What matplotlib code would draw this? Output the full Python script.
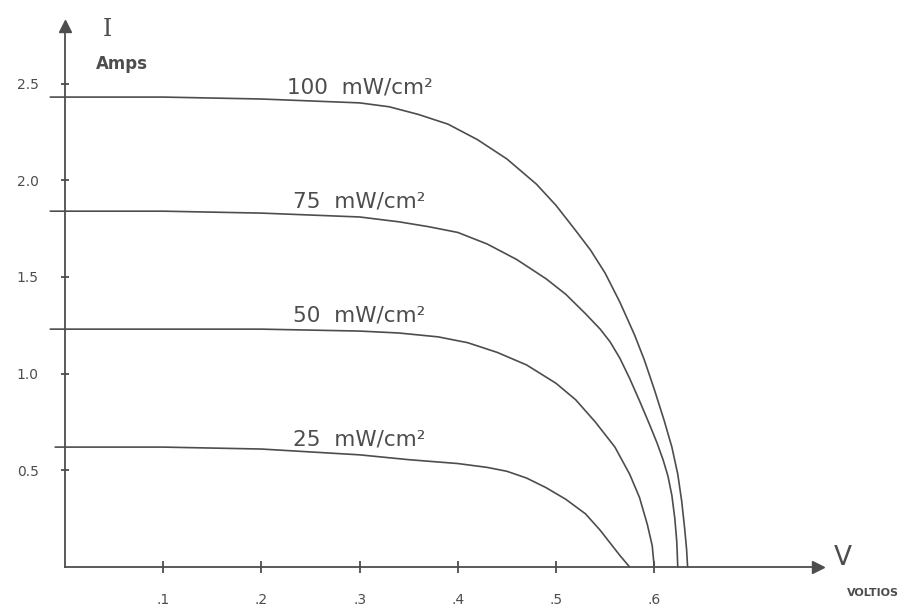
import matplotlib
matplotlib.use("Agg")
import matplotlib.pyplot as plt
import numpy as np

# I-V curves of a solar cell at four irradiance levels
volts_100 = [-0.015, 0.05, 0.10, 0.15, 0.20, 0.25, 0.30, 0.33, 0.36, 0.39, 0.42, 0.45, 0.48,
             0.50, 0.52, 0.535, 0.55, 0.565, 0.58, 0.59, 0.60, 0.61, 0.618, 0.624, 0.628,
             0.631, 0.633, 0.634]
amps_100 = [2.43, 2.43, 2.43, 2.425, 2.42, 2.41, 2.40, 2.38, 2.34, 2.29, 2.21, 2.11, 1.98,
            1.87, 1.74, 1.64, 1.52, 1.37, 1.20, 1.07, 0.92, 0.76, 0.62, 0.48, 0.34,
            0.20, 0.09, 0.0]

volts_75 = [-0.015, 0.05, 0.10, 0.15, 0.20, 0.25, 0.30, 0.34, 0.37, 0.40, 0.43, 0.46, 0.49,
            0.51, 0.53, 0.545, 0.555, 0.565, 0.575, 0.585, 0.595, 0.603, 0.609, 0.614,
            0.618, 0.621, 0.623, 0.624]
amps_75 = [1.84, 1.84, 1.84, 1.835, 1.83, 1.82, 1.81, 1.785, 1.76, 1.73, 1.67, 1.59, 1.49,
           1.41, 1.31, 1.23, 1.165, 1.08, 0.975, 0.86, 0.74, 0.64, 0.555, 0.47,
           0.37, 0.25, 0.13, 0.0]

volts_50 = [-0.015, 0.05, 0.10, 0.15, 0.20, 0.25, 0.30, 0.34, 0.38, 0.41, 0.44, 0.47, 0.50,
            0.52, 0.54, 0.56, 0.575, 0.585, 0.593, 0.598, 0.60]
amps_50 = [1.23, 1.23, 1.23, 1.23, 1.23, 1.225, 1.22, 1.21, 1.19, 1.16, 1.11, 1.045, 0.95,
           0.865, 0.75, 0.62, 0.48, 0.36, 0.22, 0.11, 0.0]

volts_25 = [-0.01, 0.05, 0.10, 0.15, 0.20, 0.25, 0.30, 0.35, 0.40, 0.43, 0.45, 0.47, 0.49,
            0.51, 0.53, 0.545, 0.555, 0.565, 0.575]
amps_25 = [0.62, 0.62, 0.62, 0.615, 0.61, 0.595, 0.58, 0.555, 0.535, 0.515, 0.495, 0.46, 0.41,
           0.35, 0.275, 0.19, 0.125, 0.06, 0.0]

curve_labels = ["100  mW/cm²", "75  mW/cm²", "50  mW/cm²", "25  mW/cm²"]

x_ticks = [0.1, 0.2, 0.3, 0.4, 0.5, 0.6]
x_ticklabels = [".1", ".2", ".3", ".4", ".5", ".6"]
y_ticks = [0.5, 1.0, 1.5, 2.0, 2.5]
y_ticklabels = ["0.5", "1.0", "1.5", "2.0", "2.5"]

ink = "#4d4d4d"
v_end = 0.767
i_end = 2.80
label_v = 0.30

fig = plt.figure(figsize=(9.16, 6.08), dpi=100)
ax = fig.add_axes([0, 0, 1, 1])
ax.set_xlim(-0.0662, 0.8666)
ax.set_ylim(-0.212, 2.932)

curves = [(volts_100, amps_100), (volts_75, amps_75), (volts_50, amps_50), (volts_25, amps_25)]
for (v, a), lab in zip(curves, curve_labels):
    ax.plot(v, a, color=ink, lw=1.2, solid_capstyle="round", solid_joinstyle="round")
    # label sits just above the flat part of each curve
    ax.annotate(lab, xy=(label_v, np.interp(label_v, v, a)), xytext=(0, 4),
                textcoords="offset points", ha="center", va="bottom",
                fontsize=15.5, color=ink)

# axes drawn through the origin, with arrow heads
for side in ["top", "right"]:
    ax.spines[side].set_visible(False)
ax.spines["left"].set_position(("data", 0))
ax.spines["bottom"].set_position(("data", 0))
ax.spines["left"].set_bounds(0, i_end)
ax.spines["bottom"].set_bounds(0, v_end)
for side in ["left", "bottom"]:
    ax.spines[side].set_color(ink)
    ax.spines[side].set_linewidth(1.3)
ax.plot(v_end, 0, marker=">", ms=9, color=ink, clip_on=False)
ax.plot(0, i_end, marker="^", ms=9, color=ink, clip_on=False)

ax.set_xticks(x_ticks)
ax.set_xticklabels(x_ticklabels)
ax.set_yticks(y_ticks)
ax.set_yticklabels(y_ticklabels)
ax.tick_params(axis="x", direction="inout", length=9, width=1.3, color=ink,
               labelcolor=ink, labelsize=10, pad=14)
ax.tick_params(axis="y", direction="inout", length=6, width=1.3, color=ink,
               labelcolor=ink, labelsize=10, pad=16)

# axis names
ax.text(0.043, 2.78, "I", fontsize=17, family="DejaVu Serif", color=ink, ha="center", va="center")
ax.text(0.058, 2.60, "Amps", fontsize=12, fontweight="bold", color=ink, ha="center", va="center")
ax.text(0.792, 0.045, "V", fontsize=19, color=ink, ha="center", va="center")
ax.text(0.823, -0.135, "VOLTIOS", fontsize=8, fontweight="bold", color=ink, ha="center", va="center")

fig.savefig("out.png", dpi=100, facecolor="white")
